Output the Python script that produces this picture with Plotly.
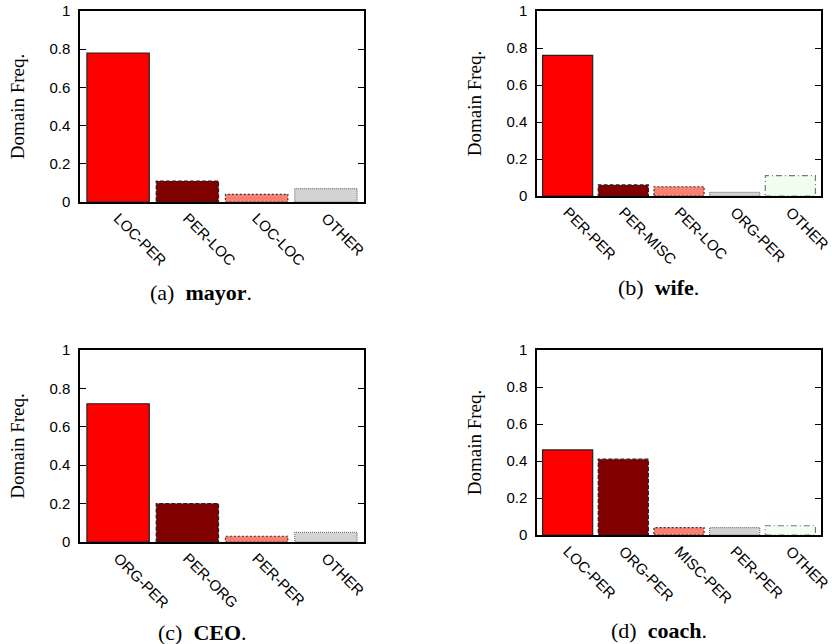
import plotly.graph_objects as go

# ---- data ----
cats_a = ["LOC-PER", "PER-LOC", "LOC-LOC", "OTHER"]
vals_a = [0.78, 0.11, 0.04, 0.07]
cats_b = ["PER-PER", "PER-MISC", "PER-LOC", "ORG-PER", "OTHER"]
vals_b = [0.76, 0.06, 0.05, 0.02, 0.11]
cats_c = ["ORG-PER", "PER-ORG", "PER-PER", "OTHER"]
vals_c = [0.72, 0.20, 0.03, 0.05]
cats_d = ["LOC-PER", "ORG-PER", "MISC-PER", "PER-PER", "OTHER"]
vals_d = [0.46, 0.41, 0.04, 0.04, 0.05]
captions = ["(a)&nbsp;&nbsp;<b>mayor</b>.", "(b)&nbsp;&nbsp;<b>wife</b>.",
            "(c)&nbsp;&nbsp;<b>CEO</b>.", "(d)&nbsp;&nbsp;<b>coach</b>."]
y_ticks = [0, 0.2, 0.4, 0.6, 0.8, 1]
y_ticktext = ["0", "0.2", "0.4", "0.6", "0.8", "1"]

# styles
fills4 = ["#ff0000", "#800000", "#fa8072", "#d3d3d3"]
fills5 = ["#ff0000", "#800000", "#fa8072", "#d3d3d3", "#f0fff0"]
edge_col = ["#222222", "#222222", "#333333", "#777777", "#777777"]
edge_dash = ["solid", "4px,2px", "2px,2px", "1px,1px", "6px,3px,1px,3px"]

W, H = 832, 644
panels = [
    (cats_a, vals_a, fills4, (80, 364), (11, 202), (201, 292)),
    (cats_b, vals_b, fills5, (537, 821), (11, 196), (658, 287)),
    (cats_c, vals_c, fills4, (80, 364), (350, 542), (202, 632)),
    (cats_d, vals_d, fills5, (537, 821), (350, 535), (659, 630)),
]

fig = go.Figure()
shapes = []
annotations = []
tick_font = dict(family="Liberation Sans, Arial, sans-serif", size=15, color="black")
for k, (cats, vals, fills, xd, yd, cap) in enumerate(panels):
    idx = k + 1
    xa = "x" if idx == 1 else f"x{idx}"
    ya = "y" if idx == 1 else f"y{idx}"
    xs = list(range(len(cats)))
    fig.add_trace(go.Bar(
        x=xs, y=vals, xaxis=xa, yaxis=ya, width=0.9,
        marker=dict(color=fills, line=dict(width=0)),
        showlegend=False, hoverinfo="x+y",
    ))
    for i, v in enumerate(vals):
        shapes.append(dict(
            type="rect", xref=xa, yref=ya, x0=i - 0.45, x1=i + 0.45, y0=0, y1=v,
            line=dict(color=edge_col[i], width=1.2, dash=edge_dash[i]),
            fillcolor="rgba(0,0,0,0)", layer="above",
        ))
    xkey = "xaxis" if idx == 1 else f"xaxis{idx}"
    ykey = "yaxis" if idx == 1 else f"yaxis{idx}"
    fig.layout[xkey] = dict(
        domain=[xd[0] / W, xd[1] / W], anchor=ya,
        range=[-0.55, len(cats) - 0.45],
        tickvals=xs, ticktext=cats, tickangle=45, ticks="",
        showline=True, mirror=True, linecolor="black", linewidth=1.5,
        showgrid=False, zeroline=False, tickfont=tick_font, fixedrange=True,
        automargin=False, ticklabeloverflow="allow",
    )
    fig.layout[ykey] = dict(
        domain=[1 - yd[1] / H, 1 - yd[0] / H], anchor=xa, range=[0, 1],
        tickvals=y_ticks, ticktext=y_ticktext, ticks="inside", ticklen=6,
        tickcolor="black", showline=True, mirror="allticks", linecolor="black",
        linewidth=1.5, showgrid=False, zeroline=False, tickfont=tick_font,
        ticklabelstandoff=5, ticklabeloverflow="allow",
        title=dict(text="Domain Freq.", standoff=20,
                   font=dict(family="Liberation Serif, Times New Roman, serif", size=19, color="black")),
        fixedrange=True, automargin=False,
    )
    annotations.append(dict(
        text=captions[k], xref="paper", yref="paper",
        x=cap[0] / W, y=1 - cap[1] / H,
        xanchor="center", yanchor="middle", showarrow=False,
        font=dict(family="Liberation Serif, Times New Roman, serif", size=22, color="black"),
    ))

fig.update_layout(
    width=W, height=H, margin=dict(l=0, r=0, t=0, b=0, autoexpand=False),
    paper_bgcolor="white", plot_bgcolor="white",
    shapes=shapes, annotations=annotations, bargap=0.1,
)
# place the figure at the page's top-left corner (remove the default body margin)
fig.write_html("out.html", config={"displayModeBar": False},
               post_script="document.body.style.margin='0';document.body.style.overflow='hidden';")
